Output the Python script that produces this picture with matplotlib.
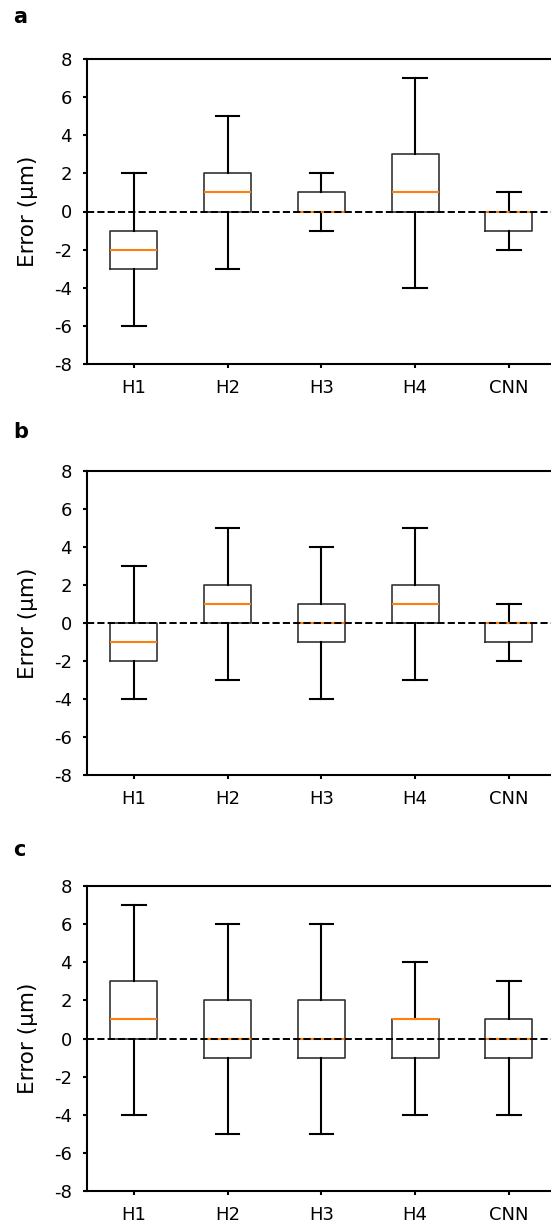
import matplotlib
matplotlib.use("Agg")
import matplotlib.pyplot as plt

categories = ["H1", "H2", "H3", "H4", "CNN"]
panel_labels = ["a", "b", "c"]
yticks = [-8, -6, -4, -2, 0, 2, 4, 6, 8]

# per panel: whislo, q1, med, q3, whishi
a_whislo = [-6, -3, -1, -4, -2]
a_q1 = [-3, 0, 0, 0, -1]
a_med = [-2, 1, 0, 1, 0]
a_q3 = [-1, 2, 1, 3, 0]
a_whishi = [2, 5, 2, 7, 1]

b_whislo = [-4, -3, -4, -3, -2]
b_q1 = [-2, 0, -1, 0, -1]
b_med = [-1, 1, 0, 1, 0]
b_q3 = [0, 2, 1, 2, 0]
b_whishi = [3, 5, 4, 5, 1]

c_whislo = [-4, -5, -5, -4, -4]
c_q1 = [0, -1, -1, -1, -1]
c_med = [1, 0, 0, 1, 0]
c_q3 = [3, 2, 2, 1, 1]
c_whishi = [7, 6, 6, 4, 3]

panels = [
    (a_whislo, a_q1, a_med, a_q3, a_whishi),
    (b_whislo, b_q1, b_med, b_q3, b_whishi),
    (c_whislo, c_q1, c_med, c_q3, c_whishi),
]

W, H = 551, 1226
fig = plt.figure(figsize=(W / 100, H / 100), dpi=100)

ax_px = [(59, 364), (471, 775), (886, 1191)]
left_px = 87
width_px = 468.75
label_y = [17, 432, 850]

for i, (wl, q1, med, q3, wh) in enumerate(panels):
    top, bot = ax_px[i]
    ax = fig.add_axes([left_px / W, 1 - bot / H, width_px / W, (bot - top) / H])
    stats = []
    for j, name in enumerate(categories):
        stats.append(dict(label=name, whislo=wl[j], q1=q1[j], med=med[j],
                          q3=q3[j], whishi=wh[j], fliers=[]))
    ax.bxp(stats, positions=range(1, 6), widths=0.5, showfliers=False,
           boxprops=dict(color="#333333", linewidth=1.2),
           whiskerprops=dict(color="black", linewidth=1.5),
           capprops=dict(color="black", linewidth=1.5),
           medianprops=dict(color="#ff7f0e", linewidth=1.5))
    ax.axhline(0, color="black", linestyle="--", linewidth=1.4, zorder=5)
    ax.set_xlim(0.5, 5.5)
    ax.set_ylim(-8, 8)
    ax.set_yticks(yticks)
    ax.set_yticklabels([str(t) for t in yticks])
    ax.set_xticks(range(1, 6))
    ax.set_xticklabels(categories)
    ax.tick_params(labelsize=13, width=1.5, length=3, pad=8)
    for s in ax.spines.values():
        s.set_linewidth(1.5)
    ax.spines["right"].set_visible(False)
    ax.set_ylabel("Error (μm)", fontsize=15.5)
    ax.yaxis.set_label_coords(-0.105, 0.5)
    fig.text(13 / W, 1 - label_y[i] / H, panel_labels[i], fontsize=15,
             fontweight="bold", ha="left", va="center")

fig.savefig("out.png", dpi=100)
